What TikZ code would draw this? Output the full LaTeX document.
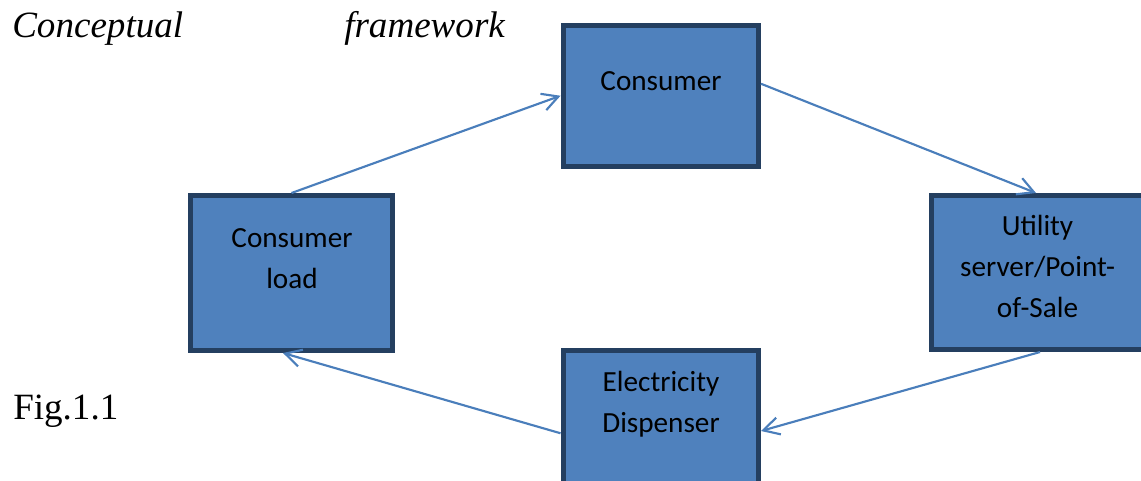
\documentclass[tikz,border=0pt]{standalone}
\usepackage{fontspec}
\setmainfont{Liberation Serif}
\newfontfamily\boxfont{Carlito}
\usetikzlibrary{arrows.meta}
\definecolor{boxfill}{HTML}{4F81BD}
\definecolor{boxline}{HTML}{243F60}
\definecolor{arrowblue}{HTML}{4A7EBB}
\begin{document}
\begin{tikzpicture}[x=0.75pt,y=-0.75pt,
  box/.style={draw=boxline, fill=boxfill, line width=3.75pt, inner sep=0pt},
  boxtext/.style={anchor=base, align=center, inner sep=0pt,
    font=\boxfont\fontsize{21.9pt}{30.75pt}\selectfont},
  conn/.style={draw=arrowblue, line width=1.6pt, -{Straight Barb[length=12pt,width=13pt,line width=1.6pt]}},
  plain/.style={anchor=base west, inner sep=0pt, font=\fontsize{27.8pt}{33pt}\selectfont}]
\useasboundingbox (0,0) rectangle (1141,480);
\clip (0,0) rectangle (1141,480);
% boxes
\node[box, minimum width=146.6pt, minimum height=106.1pt] (cons) at (660.75,95.75) {};
\node[box, minimum width=151.5pt, minimum height=116.25pt] (load) at (291.5,273) {};
\node[box, minimum width=159.75pt, minimum height=115.5pt] (util) at (1038,272.5) {};
\node[box, minimum width=146.6pt, minimum height=127.1pt] (disp) at (660.75,435.25) {};
% box texts (anchor=base is the baseline of the last line)
\node[boxtext] (consT) at (661,90) {Consumer};
\node[boxtext] (loadT) at (292,288) {Consumer\\load};
\node[boxtext] (utilT) at (1037.5,317) {Utility\\server/Point-\\of-Sale};
\node[boxtext] (dispT) at (661,432) {Electricity\\Dispenser};
% connectors
\draw[conn] (load.north) -- (cons.west);
\draw[conn] ([yshift=9pt]cons.east) -- ([xshift=-1.5pt]util.north);
\draw[conn] ([xshift=1.5pt]util.south) -- ([yshift=3.2pt]disp.east);
\draw[conn] ([yshift=1.5pt]disp.west) -- ([xshift=-6.4pt]load.south);
% captions
\node[plain] (t1) at (12,37) {\itshape Conceptual};
\node[plain] (t2) at (344,37) {\itshape framework};
\node[plain] (fig) at (13,419) {Fig.1.1};
\end{tikzpicture}
\end{document}
